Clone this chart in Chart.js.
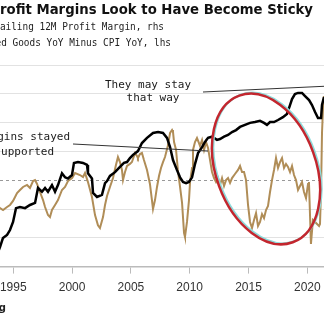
<!DOCTYPE html>
<html>
<head>
<meta charset="utf-8">
<script src="https://cdn.jsdelivr.net/npm/chart.js@4/dist/chart.umd.min.js"></script>
<style>
  html, body { margin: 0; padding: 0; background: #fff; overflow: hidden; }
  #wrap { position: relative; width: 324px; height: 322px; }
</style>
</head>
<body>
<div id="wrap"><canvas id="chart"></canvas></div>
<script>
// Profit margin (rhs) vs finished goods minus CPI (lhs)
const titleText = 'Profit Margins Look to Have Become Sticky';
const legendLines = ['Trailing 12M Profit Margin, rhs', 'Finished Goods YoY Minus CPI YoY, lhs'];
const yearTicks = [1995, 2000, 2005, 2010, 2015, 2020];

const marginYears = [
  1993.6, 1993.87, 1994.12, 1994.47, 1994.72, 1994.98, 1995.23, 1995.57, 1996.00, 1996.42, 1996.85,
  1997.10, 1997.44, 1997.70, 1997.95, 1998.29, 1998.55, 1998.80, 1999.14, 1999.40, 1999.65,
  1999.99, 2000.16, 2000.50, 2000.93, 2001.27, 2001.35, 2001.69, 2001.78, 2002.12, 2002.54,
  2002.80, 2002.97, 2003.22, 2003.65, 2004.07, 2004.41, 2004.67, 2004.92, 2005.18, 2005.60,
  2005.94, 2006.37, 2006.88, 2007.31, 2007.73, 2008.07, 2008.33, 2008.58, 2008.92, 2009.18,
  2009.43, 2009.69, 2009.94, 2010.20, 2010.45, 2010.71, 2011.05, 2011.30, 2011.56, 2011.90,
  2012.32, 2012.58, 2012.92, 2013.26, 2013.60, 2013.94, 2014.28, 2014.70, 2015.13, 2015.55,
  2015.98, 2016.32, 2016.57, 2016.83, 2017.17, 2017.51, 2017.93, 2018.27, 2018.53, 2018.70,
  2018.95, 2019.21, 2019.55, 2019.81, 2020.15, 2020.40, 2020.66, 2020.91, 2021.17, 2021.25,
  2021.42, 2021.6
];
const marginValues = [
  4.40, 4.68, 4.99, 5.10, 5.27, 5.55, 6.03, 6.07, 6.03, 6.14, 6.21,
  6.73, 6.60, 6.73, 6.60, 6.83, 6.60, 6.83, 7.24, 7.10, 7.06,
  7.18, 7.60, 7.63, 7.60, 7.53, 7.24, 7.06, 6.56, 6.42, 6.49,
  6.90, 6.97, 7.15, 7.28, 7.46, 7.60, 7.63, 7.77, 7.88, 8.01,
  8.29, 8.47, 8.64, 8.67, 8.64, 8.47, 8.15, 7.70, 7.35, 7.10,
  6.94, 6.90, 6.94, 7.10, 7.56, 7.94, 8.15, 8.33, 8.47, 8.51,
  8.40, 8.43, 8.51, 8.57, 8.67, 8.74, 8.85, 8.92, 8.99, 9.02,
  9.06, 8.99, 8.92, 9.02, 9.02, 9.09, 9.19, 9.30, 9.61, 9.82,
  9.99, 10.03, 10.03, 9.92, 9.78, 9.61, 9.37, 9.16, 9.16, 9.61,
  9.89, 10.1
];

const goodsYears = [
  1993.6, 1993.87, 1994.13, 1994.47, 1994.72, 1994.98, 1995.32, 1995.57, 1995.83, 1996.17, 1996.42,
  1996.68, 1996.85, 1997.02, 1997.27, 1997.53, 1997.70, 1997.95, 1998.12, 1998.29, 1998.55,
  1998.80, 1999.14, 1999.40, 1999.65, 2000.00, 2000.25, 2000.67, 2000.93, 2001.10, 2001.35,
  2001.69, 2001.95, 2002.20, 2002.37, 2002.63, 2002.80, 2002.97, 2003.22, 2003.48, 2003.73,
  2003.90, 2004.07, 2004.24, 2004.33, 2004.50, 2004.67, 2004.92, 2005.09, 2005.35, 2005.52,
  2005.60, 2005.77, 2005.94, 2006.11, 2006.37, 2006.62, 2006.79, 2006.88, 2007.05, 2007.22,
  2007.39, 2007.56, 2007.73, 2007.90, 2008.16, 2008.33, 2008.50, 2008.58, 2008.67, 2008.84,
  2009.01, 2009.18, 2009.35, 2009.52, 2009.60, 2009.77, 2009.94, 2010.03, 2010.20, 2010.28,
  2010.45, 2010.62, 2010.79, 2010.88, 2011.05, 2011.22, 2011.39, 2011.56, 2011.73, 2011.90,
  2012.07, 2012.24, 2012.41, 2012.58, 2012.75, 2012.92, 2013.09, 2013.26, 2013.43, 2013.60,
  2013.85, 2014.11, 2014.28, 2014.45, 2014.62, 2014.79, 2014.96, 2015.13, 2015.30, 2015.47,
  2015.64, 2015.81, 2015.98, 2016.15, 2016.32, 2016.49, 2016.66, 2016.83, 2017.00, 2017.17,
  2017.34, 2017.51, 2017.68, 2017.85, 2018.02, 2018.19, 2018.36, 2018.53, 2018.70, 2018.87,
  2019.04, 2019.21, 2019.38, 2019.55, 2019.72, 2019.89, 2020.06, 2020.14, 2020.31, 2020.48,
  2020.66, 2020.83, 2021.00, 2021.08, 2021.17, 2021.25, 2021.34, 2021.42, 2021.6
];
const goodsValues = [
  -1.80, -1.93, -2.07, -1.86, -1.72, -1.44, -0.89, -0.68, -0.47, -0.33, -0.54,
  -0.06, 0.01, -0.26, -0.82, -1.38, -1.86, -2.42, -2.56, -2.07, -1.72,
  -1.38, -0.68, -0.47, -0.06, 0.15, 0.50, 0.36, 0.22, 0.50, -0.13,
  -1.17, -2.42, -3.13, -3.32, -2.56, -1.72, -1.10, -0.47, 0.15, 1.06,
  1.61, 1.26, 0.71, 0.01, 0.57, 0.99, 1.13, 1.26, 1.89, 1.68,
  1.54, 1.82, 1.89, 1.40, 0.71, -0.26, -1.38, -2.00, -1.38, -0.47,
  0.29, 0.85, 1.26, 1.61, 2.44, 3.28, 3.49, 3.35, 2.65, 2.10,
  0.57, -0.47, -1.58, -3.67, -3.94, -2.90, -1.38, -0.13, 0.85, 2.10,
  2.65, 2.93, 2.58, 2.38, 2.79, 2.10, 2.65, 2.24, 1.40, 0.57,
  0.15, -0.13, 0.15, -0.33, 0.15, -0.40, 0.01, 0.15, -0.19, 0.15,
  0.43, 0.71, 0.99, 0.57, 0.57, 0.01, -1.72, -2.90, -3.32, -2.76,
  -2.28, -3.18, -2.90, -2.35, -2.63, -2.07, -1.79, -0.82, 0.01, 0.71,
  1.54, 0.85, 1.26, 1.54, 0.85, 1.13, 0.92, 0.57, 0.99, 0.36,
  0.01, -0.68, -0.40, -0.13, -0.82, -1.24, -0.26, -0.13, -4.43, -2.76,
  -2.90, -3.04, -3.18, -3.04, -0.68, 3.28, 5.08, 5.85, 7.5
];

const toPoints = (xs, ys) => xs.map((x, i) => ({ x, y: ys[i] }));

// Hand-drawn style annotations, drawn on top of the series
const overlay = {
  id: 'overlay',
  afterDraw(chart) {
    const { ctx, scales: { x, yL } } = chart;
    ctx.save();

    // title, cropped on the left like the picture
    ctx.fillStyle = '#111';
    ctx.font = 'bold 14px "DejaVu Sans"';
    ctx.textBaseline = 'middle';
    ctx.textAlign = 'right';
    const sx = 313 / ctx.measureText(titleText.slice(1)).width;
    ctx.save();
    ctx.translate(313, 10);
    ctx.scale(sx, 1);
    ctx.fillText(titleText, 0, 0);
    ctx.restore();

    // legend lines
    ctx.font = '10px "DejaVu Sans Mono"';
    ctx.fillStyle = '#222';
    ctx.save();
    ctx.scale(0.94, 1);
    ctx.fillText(legendLines[0], 164 / 0.94, 27);
    ctx.fillText(legendLines[1], 171 / 0.94, 43);
    ctx.restore();

    // source
    ctx.font = 'bold 10px "DejaVu Sans"';
    ctx.fillText('Bloomberg', 6, 308);

    // leader lines
    ctx.strokeStyle = '#333';
    ctx.lineWidth = 1;
    ctx.beginPath();
    ctx.moveTo(203, 92); ctx.lineTo(330, 86);
    ctx.moveTo(73, 144); ctx.lineTo(208, 151);
    ctx.stroke();

    // annotation texts
    ctx.font = '11px "DejaVu Sans Mono"';
    ctx.fillStyle = '#1a1a1a';
    ctx.textAlign = 'center';
    ctx.fillText('They may stay', 148, 85);
    ctx.fillText('that way', 153, 98);
    ctx.textAlign = 'right';
    ctx.fillText('Margins stayed', 70, 137);
    ctx.fillText('supported', 54, 152);

    // ellipse round 2012-2020
    const cx = x.getPixelForValue(2016.49);
    const cy = yL.getPixelForValue(0.78);
    ctx.lineWidth = 2;
    ctx.strokeStyle = '#8fdcdc';
    ctx.beginPath();
    ctx.ellipse(cx + 1.5, cy - 1, 50, 78, -0.35, 0, Math.PI * 2);
    ctx.stroke();
    ctx.lineWidth = 2.5;
    ctx.strokeStyle = '#c3262e';
    ctx.beginPath();
    ctx.ellipse(cx, cy, 50, 78, -0.35, 0, Math.PI * 2);
    ctx.stroke();

    ctx.restore();
  }
};

new Chart(document.getElementById('chart'), {
  type: 'line',
  data: {
    datasets: [
      {
        label: 'Trailing 12M Profit Margin',
        data: toPoints(marginYears, marginValues),
        yAxisID: 'yR',
        borderColor: '#000',
        borderWidth: 2.5,
        pointRadius: 0,
        tension: 0
      },
      {
        label: 'Finished Goods YoY Minus CPI YoY',
        data: toPoints(goodsYears, goodsValues),
        yAxisID: 'yL',
        borderColor: '#b08d57',
        borderWidth: 2,
        pointRadius: 0,
        tension: 0
      }
    ]
  },
  options: {
    responsive: true,
    maintainAspectRatio: false,
    animation: false,
    layout: { padding: { top: 65, left: 0, right: 0, bottom: 0 } },
    plugins: {
      legend: { display: false },
      title: { display: false },
      tooltip: { enabled: false }
    },
    scales: {
      x: {
        type: 'linear',
        min: 1993.87,
        max: 2021.42,
        afterBuildTicks: s => { s.ticks = yearTicks.map(v => ({ value: v })); },
        afterFit: s => { s.height = 55.4; s.paddingLeft = 0; s.paddingRight = 0; },
        ticks: {
          autoSkip: false,
          maxRotation: 0,
          padding: 7,
          color: '#333',
          font: { family: 'Liberation Sans', size: 12 },
          callback: v => String(v)
        },
        grid: { drawOnChartArea: false, drawTicks: true, tickLength: 7, color: '#bbb' },
        border: { display: true, color: '#bbb', width: 1.5 }
      },
      yL: {
        position: 'left',
        min: -6,
        max: 8,
        ticks: { display: false, stepSize: 2 },
        afterFit: s => { s.width = 0; s.paddingTop = 0; s.paddingBottom = 0; },
        grid: {
          drawTicks: false,
          color: c => (c.tick && c.tick.value === 0 ? '#999' : 'rgba(0,0,0,0)')
        },
        border: { display: false, dash: [3, 3] }
      },
      yR: {
        position: 'right',
        min: 4,
        max: 11,
        ticks: { display: false, stepSize: 1 },
        afterFit: s => { s.width = 0; s.paddingTop = 0; s.paddingBottom = 0; },
        grid: {
          drawTicks: false,
          color: c => (c.tick && c.tick.value === 7 ? 'rgba(0,0,0,0)' : '#e2e2e2')
        },
        border: { display: false }
      }
    }
  },
  plugins: [overlay]
});
</script>
</body>
</html>
